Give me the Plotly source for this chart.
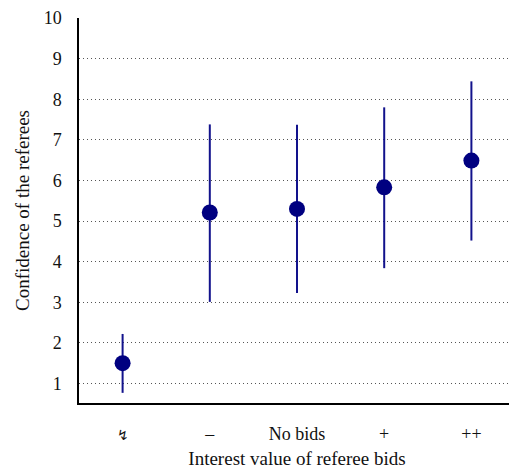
import plotly.graph_objects as go

categories = ["↯", "–", "No bids", "+", "++"]
means = [1.50, 5.21, 5.30, 5.83, 6.49]
upper = [2.22, 7.38, 7.37, 7.80, 8.44]
lower = [0.77, 3.01, 3.23, 3.84, 4.52]
y_ticks = list(range(1, 11))

err_plus = [u - m for u, m in zip(upper, means)]
err_minus = [m - l for m, l in zip(means, lower)]
xpos = list(range(len(categories)))

fig = go.Figure()
fig.add_trace(go.Scatter(
    x=xpos, y=means, mode="markers",
    marker=dict(size=16, color="#000080"),
    error_y=dict(type="data", symmetric=False, array=err_plus, arrayminus=err_minus,
                 color="#12128c", thickness=2, width=0),
    showlegend=False,
))

font = dict(family="Liberation Serif, Times New Roman, serif", size=19, color="#111")
tickfont = dict(family="Liberation Serif, Times New Roman, serif", size=18, color="#111")
# the page body has an 8px default margin, so the figure is sized/offset to compensate
fig.update_layout(
    width=509, height=461,
    margin=dict(l=71, r=2, t=10, b=66),
    plot_bgcolor="white", paper_bgcolor="white",
    font=font,
    xaxis=dict(
        range=[-0.5, 4.5], tickmode="array", tickvals=xpos,
        ticktext=["<span style='font-size:14px'>" + categories[0] + "</span>"] + categories[1:],
        showgrid=False, zeroline=False, showline=True, linecolor="black", linewidth=1.5,
        ticks="", ticklabelstandoff=14, automargin=False, tickfont=tickfont,
        title=dict(text="Interest value of referee bids", standoff=12, font=font),
    ),
    yaxis=dict(
        range=[0.52, 10], tickmode="array", tickvals=y_ticks,
        showgrid=True, gridcolor="#555", griddash="1px,3px", gridwidth=1,
        zeroline=False, showline=True, linecolor="black", linewidth=1.5,
        ticks="", ticklabelstandoff=12, automargin=False, tickfont=tickfont,
        title=dict(text="Confidence of the referees", standoff=9, font=font),
    ),
)
fig.write_html("out.html")
